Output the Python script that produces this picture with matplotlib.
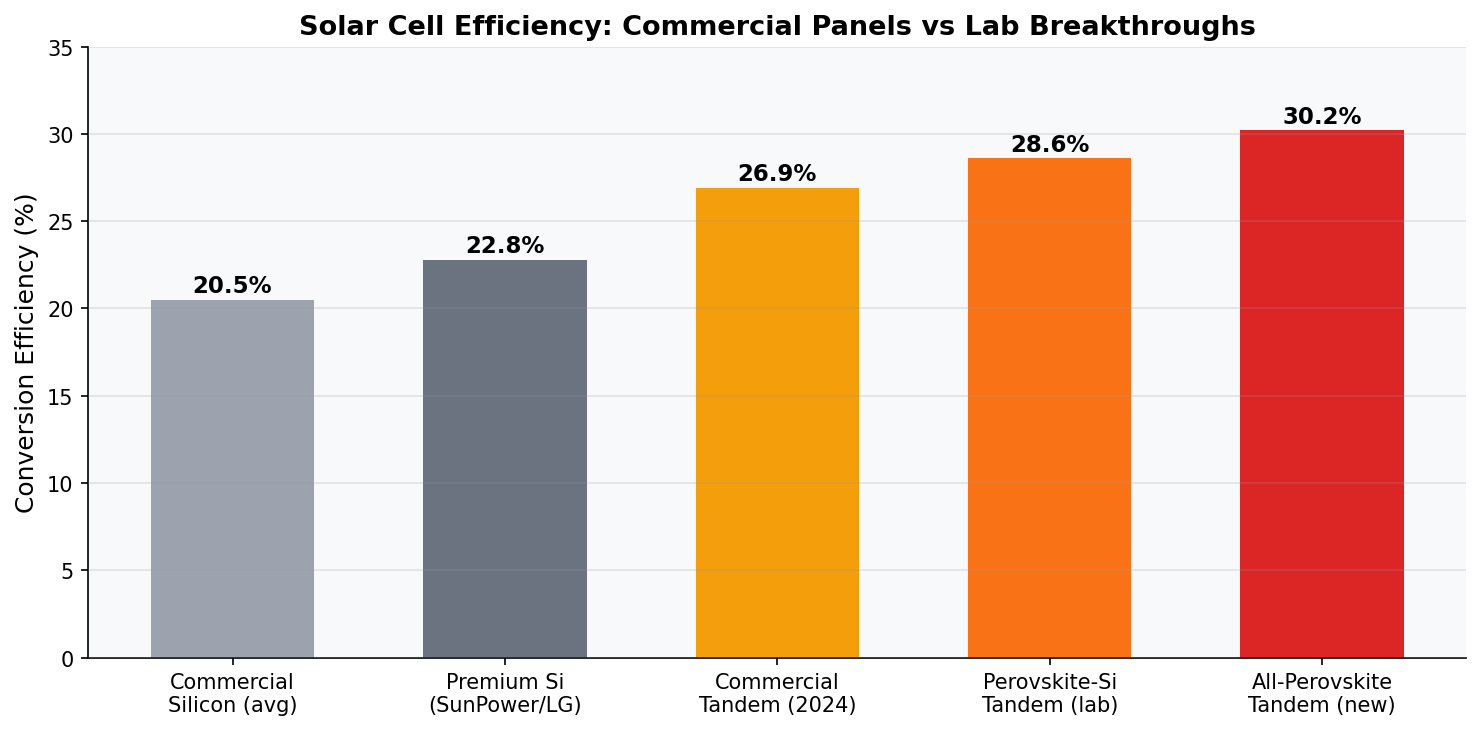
import numpy as np
import matplotlib
matplotlib.use('Agg')
import matplotlib.pyplot as plt

# Data
categories = ["Commercial\nSilicon (avg)", "Premium Si\n(SunPower/LG)", "Commercial\nTandem (2024)",
              "Perovskite-Si\nTandem (lab)", "All-Perovskite\nTandem (new)"]
efficiency = [20.5, 22.8, 26.9, 28.6, 30.2]
bar_colors = ["#9CA3AF", "#6B7280", "#F59E0B", "#F97316", "#DC2626"]

fig, ax = plt.subplots(figsize=(9.88, 4.873), dpi=150)
ax.set_facecolor('#F8F9FA')

x = np.arange(len(categories))
bars = ax.bar(x, efficiency, width=0.6, color=bar_colors, zorder=2)
ax.yaxis.grid(True, color='#999999', alpha=0.25, lw=0.8, zorder=3)
ax.set_axisbelow(False)

for b, v in zip(bars, efficiency):
    ax.text(b.get_x() + b.get_width() / 2, v + 0.15, f"{v}%", ha='center', va='bottom',
            fontsize=11, fontweight='bold', zorder=4)

ax.set_xticks(x)
ax.set_xticklabels(categories, fontsize=10)
ax.set_ylim(0, 35)
ax.set_xlim(-0.53, 4.53)
ax.set_ylabel('Conversion Efficiency (%)', fontsize=12)
ax.set_title('Solar Cell Efficiency: Commercial Panels vs Lab Breakthroughs', fontsize=13, fontweight='bold')
ax.tick_params(axis='y', labelsize=10)
ax.spines['top'].set_visible(False)
ax.spines['right'].set_visible(False)

plt.subplots_adjust(left=0.0595, right=0.9895, top=0.935, bottom=0.099)
plt.savefig('out.png', dpi=150)
